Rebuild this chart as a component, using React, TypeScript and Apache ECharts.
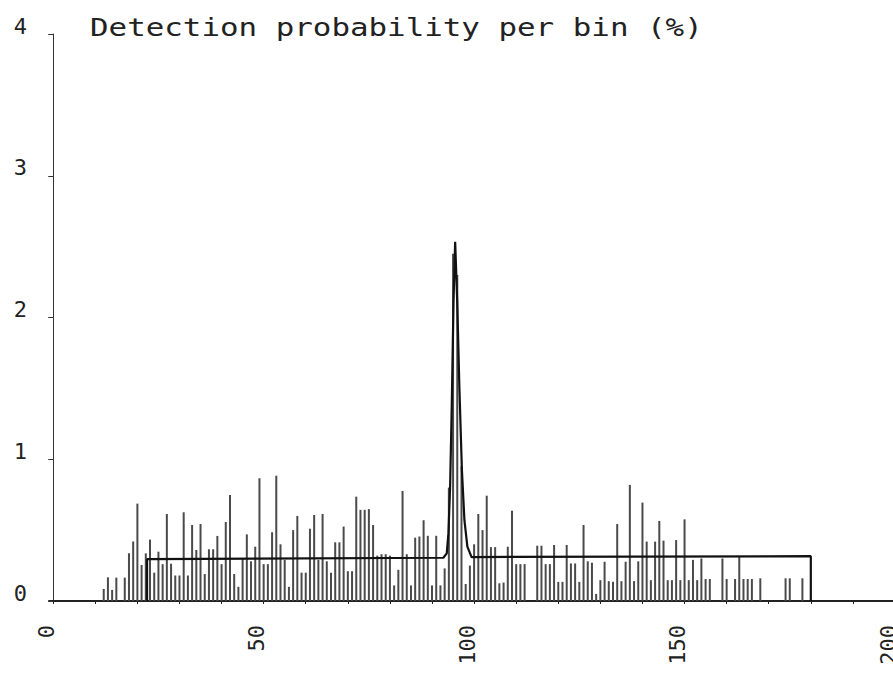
import React, { useEffect, useRef } from "react";
import * as echarts from "echarts";

const titleText = "Detection probability per bin (%)";

// first bin (x value) of the histogram; one value per bin of width 1
const binStart = 12;
const binValues = [
  0.085, 0.167, 0.078, 0.165, 0, 0.165, 0.336, 0.42, 0.687, 0.254, // 12-21
  0.336, 0.433, 0.2, 0.348, 0.26, 0.614, 0.263, 0.18, 0.18, 0.626, // 22-31
  0.18, 0.536, 0.36, 0.543, 0.19, 0.365, 0.365, 0.459, 0.26, 0.557, // 32-41
  0.748, 0.19, 0.1, 0.3, 0.47, 0.28, 0.383, 0.866, 0.26, 0.26, // 42-51
  0.485, 0.884, 0.4, 0.29, 0.1, 0.5, 0.6, 0.2, 0.2, 0.51, // 52-61
  0.607, 0.29, 0.614, 0.28, 0.2, 0.414, 0.414, 0.525, 0.21, 0.21, // 62-71
  0.736, 0.643, 0.643, 0.648, 0.536, 0.32, 0.33, 0.33, 0.32, 0.11, // 72-81
  0.22, 0.776, 0.33, 0.11, 0.447, 0.455, 0.57, 0.46, 0.11, 0.46, // 82-91
  0.11, 0.23, 0.8, 2.45, 2.3, 0.95, 0.12, 0.25, 0.4, 0.614, // 92-101
  0.5, 0.743, 0.38, 0.38, 0.125, 0.13, 0.383, 0.637, 0.26, 0.26, // 102-111
  0.26, 0, 0, 0.39, 0.39, 0.26, 0.26, 0.395, 0.135, 0.135, // 112-121
  0.395, 0.265, 0.265, 0.135, 0.536, 0.28, 0.27, 0.05, 0.147, 0.277, // 122-131
  0.14, 0.135, 0.543, 0.14, 0.277, 0.819, 0.14, 0.28, 0.694, 0.419, // 132-141
  0.147, 0.419, 0.565, 0.426, 0.147, 0.147, 0.43, 0.147, 0.576, 0.147, // 142-151
  0.29, 0.147, 0.3, 0.155, 0.155, 0, 0, 0.3, 0.155, 0, // 152-161
  0.155, 0.31, 0.155, 0.155, 0.155, 0, 0.16, 0, 0, 0, // 162-171
  0, 0, 0.16, 0.16, 0, 0, 0.16, // 172-178
];

// fitted curve
const fitX = [22.3, 22.3, 92.7, 93.5, 93.9, 94.3, 94.7, 95.1, 95.5, 96.0, 96.5, 97.1, 97.7, 98.4, 99.4, 180, 180];
const fitY = [0, 0.295, 0.305, 0.336, 0.477, 0.806, 1.39, 2.1, 2.535, 2.1, 1.51, 0.924, 0.57, 0.383, 0.31, 0.316, 0];

const xTickValues = [0, 10, 20, 30, 40, 50, 60, 70, 80, 90, 100, 110, 120, 130, 140, 150, 160, 170, 180, 190, 200];
const xLabelValues = [0, 50, 100, 150, 200];
const yMin = 0;
const yMax = 4;
const yStep = 1;

const FONT = "DejaVu Sans Mono";

export default function App() {
  const ref = useRef<HTMLDivElement>(null);
  useEffect(() => {
    const chart = echarts.init(ref.current!, null, { renderer: "svg" });
    const bars = binValues.map((v, i) => [binStart + i, v]);
    const fit = fitX.map((x, i) => [x, fitY[i]]);
    chart.setOption({
      animation: false,
      backgroundColor: "#ffffff",
      grid: { left: 49, right: -2, top: 34, bottom: 73, containLabel: false, outerBoundsMode: "none" },
      xAxis: {
        type: "value",
        min: -1,
        max: 200,
        axisLine: { show: true, onZero: false, lineStyle: { color: "#222", width: 2 } },
        axisTick: { show: true, customValues: xTickValues, length: 3, lineStyle: { color: "#222" } },
        axisLabel: {
          customValues: xLabelValues,
          rotate: 90,
          fontFamily: FONT,
          fontSize: 22,
          color: "#222",
          margin: 24,
          verticalAlign: "bottom",
          lineHeight: 14,
        },
        splitLine: { show: false },
      },
      yAxis: {
        type: "value",
        min: yMin,
        max: yMax,
        interval: yStep,
        axisLine: { show: true, lineStyle: { color: "#333", width: 1 } },
        axisTick: { show: true, length: 5, lineStyle: { color: "#333" } },
        axisLabel: {
          fontFamily: FONT,
          fontSize: 22,
          color: "#222",
          margin: 22,
          verticalAlign: "bottom",
          lineHeight: 16,
        },
        splitLine: { show: false },
      },
      series: [
        {
          type: "bar",
          data: bars,
          barWidth: 2,
          itemStyle: { color: "#4a4a4a" },
          silent: true,
          z: 2,
        },
        {
          type: "line",
          data: fit,
          showSymbol: false,
          lineStyle: { color: "#111", width: 2.2 },
          silent: true,
          z: 3,
        },
      ],
      graphic: [
        {
          type: "text",
          x: 90,
          y: 28,
          scaleX: 1.286,
          style: {
            text: titleText,
            fontFamily: FONT,
            fontSize: 24,
            fill: "#222",
            align: "left",
            verticalAlign: "middle",
          },
        },
      ],
    });
    return () => chart.dispose();
  }, []);
  return (
    <div
      ref={ref}
      style={{ position: "fixed", left: 0, top: 0, width: 893, height: 674, background: "#fff" }}
    />
  );
}
